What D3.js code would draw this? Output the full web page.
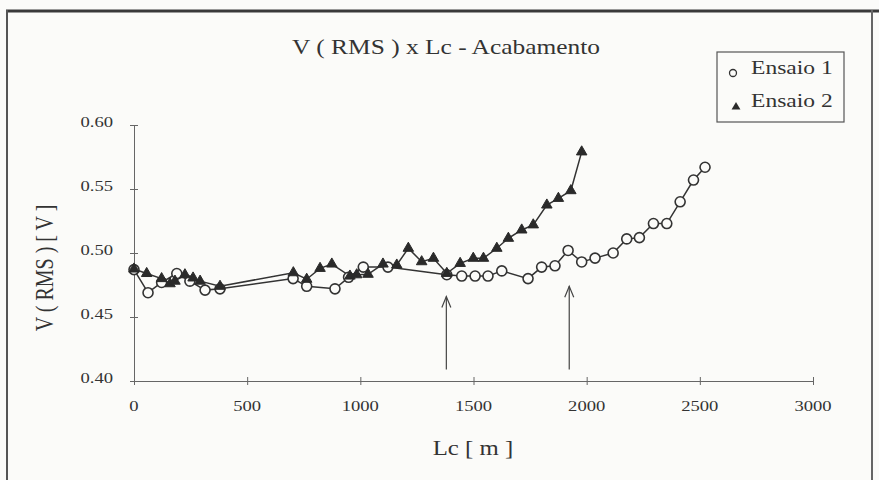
<!DOCTYPE html>
<html><head><meta charset="utf-8">
<script src="https://cdn.jsdelivr.net/npm/d3@7"></script>
<style>
html,body{margin:0;padding:0;background:#fbfbf9;}
svg{display:block;}
text{font-family:"Liberation Serif","Times New Roman",serif;fill:#333;}
</style></head>
<body>
<svg id="c" width="879" height="480"></svg>
<script>
// Ensaio 1 (open circles)
const e1Lc = [0, 62, 122, 189, 247, 314, 380, 703, 763, 888, 948, 1013, 1122, 1382, 1448, 1507, 1564, 1625, 1741, 1801, 1860, 1918, 1978, 2037, 2117, 2177, 2233, 2295, 2354, 2413, 2472, 2523];
const e1V  = [0.487, 0.469, 0.477, 0.484, 0.478, 0.471, 0.472, 0.480, 0.474, 0.472, 0.481, 0.489, 0.489, 0.483, 0.482, 0.482, 0.482, 0.486, 0.480, 0.489, 0.490, 0.502, 0.493, 0.496, 0.500, 0.511, 0.512, 0.523, 0.523, 0.540, 0.557, 0.567];
// Ensaio 2 (filled triangles)
const e2Lc = [0, 56, 122, 159, 181, 225, 261, 292, 380, 704, 763, 822, 874, 954, 984, 1034, 1100, 1161, 1212, 1271, 1323, 1382, 1441, 1499, 1544, 1603, 1654, 1713, 1764, 1824, 1875, 1930, 1978];
const e2V  = [0.4875, 0.484, 0.480, 0.476, 0.478, 0.483, 0.4805, 0.478, 0.474, 0.4846, 0.4795, 0.488, 0.4914, 0.482, 0.483, 0.4834, 0.4914, 0.4906, 0.5037, 0.4932, 0.4959, 0.4841, 0.4919, 0.4959, 0.4959, 0.5037, 0.5115, 0.518, 0.522, 0.5375, 0.5427, 0.5487, 0.579];
// Arrows marking Lc positions
const arrowLc  = [1380, 1923];
const arrowTop = [0.466, 0.474];
const arrowBase = 0.409;
// Ticks
const xTicks = [0, 500, 1000, 1500, 2000, 2500, 3000];
const yTicks = [0.40, 0.45, 0.50, 0.55, 0.60];
const seriesNames = ["Ensaio 1", "Ensaio 2"];

const SX = 1.24; // horizontal stretch of the scanned text
const svg = d3.select("#c");
const x = d3.scaleLinear().domain([0, 3000]).range([134, 813]);
const y = d3.scaleLinear().domain([0.40, 0.60]).range([381, 125]);

// frame
svg.append("rect").attr("x",0).attr("y",0).attr("width",879).attr("height",480).attr("fill","#fbfbf9");
svg.append("line").attr("x1",6).attr("x2",879).attr("y1",11).attr("y2",11).attr("stroke","#3a3a3a").attr("stroke-width",3);
svg.append("line").attr("x1",7).attr("x2",7).attr("y1",10).attr("y2",480).attr("stroke","#555").attr("stroke-width",2);
svg.append("line").attr("x1",872).attr("x2",872).attr("y1",10).attr("y2",480).attr("stroke","#666").attr("stroke-width",2);

function stext(px, py, str, size, anchor, rot) {
  return svg.append("text")
    .attr("transform", `translate(${px},${py}) scale(${SX},1)` + (rot ? ` rotate(${rot})` : ""))
    .attr("text-anchor", anchor || "middle")
    .attr("font-size", size)
    .text(str);
}

// axes
const gx = svg.append("g").attr("transform", `translate(0,${y(0.40)})`)
  .call(d3.axisBottom(x).tickValues(xTicks).tickSize(4).tickFormat(""));
gx.selectAll(".tick line").attr("y1", -4).attr("y2", 4);
const gy = svg.append("g").attr("transform", `translate(${x(0)},0)`)
  .call(d3.axisLeft(y).tickValues(yTicks).tickSize(4).tickFormat(""));
gy.selectAll(".tick line").attr("x1", 4).attr("x2", -4);
svg.selectAll(".domain, .tick line").attr("stroke", "#666").attr("stroke-width", 1);

xTicks.forEach(v => stext(x(v), 411, d3.format("d")(v), 15, "middle").attr("fill","#444"));
yTicks.forEach(v => stext(113, y(v) + 2, d3.format(".2f")(v), 15, "end").attr("fill","#444"));

// titles
stext(446, 54, "V ( RMS ) x Lc - Acabamento", 20.5, "middle");
stext(473, 455, "Lc [ m ]", 20, "middle");
stext(53, 268, "V ( RMS ) [ V ]", 20, "middle", -90);

// arrows
arrowLc.forEach((a, i) => {
  const ax = x(a), ty = y(arrowTop[i]), by = y(arrowBase);
  svg.append("line").attr("x1", ax).attr("x2", ax).attr("y1", by).attr("y2", ty).attr("stroke","#444").attr("stroke-width",1.2);
  svg.append("path").attr("d", `M${ax-4.5},${ty+11}L${ax},${ty}L${ax+4.5},${ty+11}`).attr("fill","none").attr("stroke","#444").attr("stroke-width",1.2);
});

// series lines
const line = d3.line().x(d => x(d[0])).y(d => y(d[1]));
const s1 = e1Lc.map((d, i) => [d, e1V[i]]);
const s2 = e2Lc.map((d, i) => [d, e2V[i]]);
svg.append("path").datum(s1).attr("d", line).attr("fill","none").attr("stroke","#333").attr("stroke-width",1.5);
svg.append("path").datum(s2).attr("d", line).attr("fill","none").attr("stroke","#333").attr("stroke-width",1.5);

// markers
svg.append("g").selectAll("circle").data(s1).join("circle")
  .attr("cx", d => x(d[0])).attr("cy", d => y(d[1])).attr("r", 5)
  .attr("fill", "#fbfbf9").attr("stroke", "#333").attr("stroke-width", 1.6);
const tri = d3.symbol().type(d3.symbolTriangle).size(48);
svg.append("g").selectAll("path").data(s2).join("path")
  .attr("transform", d => `translate(${x(d[0])},${y(d[1])})`)
  .attr("d", tri).attr("fill", "#2a2a2a").attr("stroke", "#2a2a2a").attr("stroke-width", 1);

// legend
svg.append("rect").attr("x", 717).attr("y", 52).attr("width", 127).attr("height", 70)
  .attr("fill","#fbfbf9").attr("stroke","#555").attr("stroke-width",1.2);
svg.append("circle").attr("cx", 733).attr("cy", 73).attr("r", 3.5).attr("fill","#fbfbf9").attr("stroke","#333").attr("stroke-width",1.3);
svg.append("path").attr("transform","translate(736,107)").attr("d", d3.symbol().type(d3.symbolTriangle).size(34)).attr("fill","#2a2a2a");
stext(751, 74, seriesNames[0], 19, "start");
stext(751, 107, seriesNames[1], 19, "start");
</script>
</body></html>
